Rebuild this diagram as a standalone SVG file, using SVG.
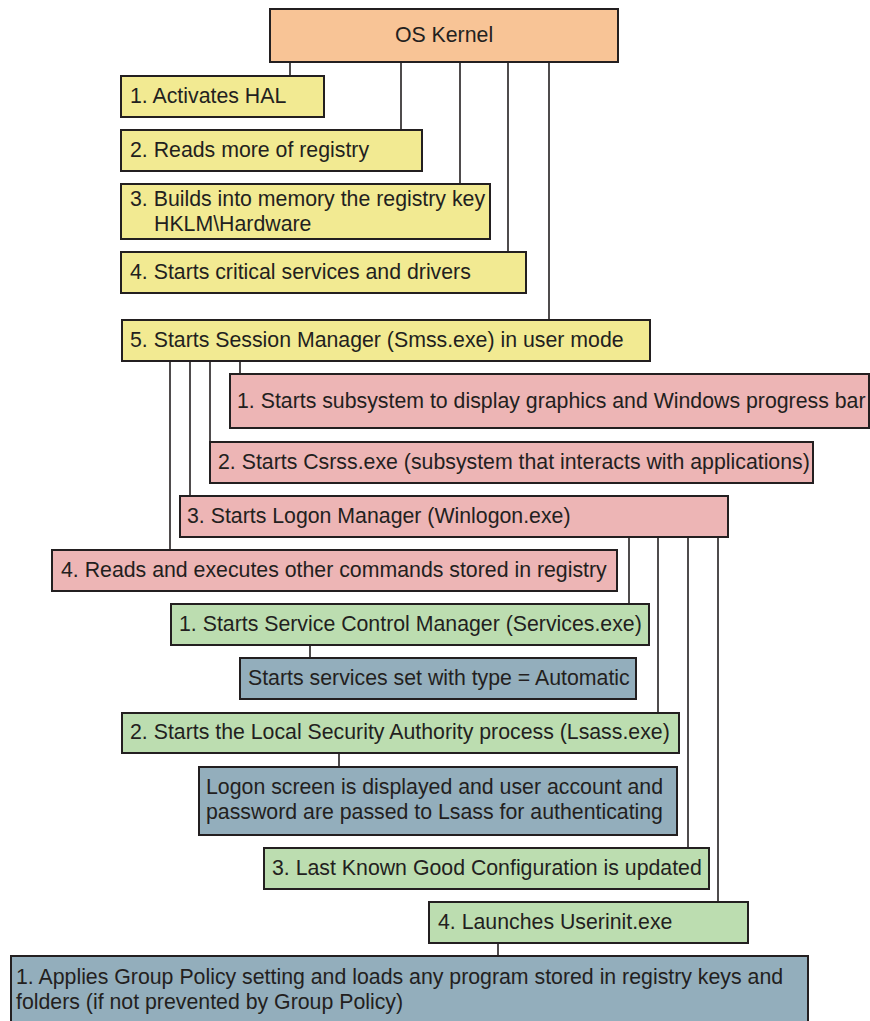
<svg xmlns="http://www.w3.org/2000/svg" width="870" height="1021" viewBox="0 0 870 1021">
<style>
rect{stroke:#231f20;stroke-width:2}
.k{fill:#f8c496}.y{fill:#f2ea92}.p{fill:#edb5b5}.g{fill:#bcddb0}.b{fill:#93aebc}
text{font-family:"Liberation Sans",Arial,sans-serif;font-size:21.3px;fill:#231f20}
#connectors line{stroke:#231f20;stroke-width:1.6}
</style>
<rect x="0" y="0" width="870" height="1021" fill="#ffffff" style="stroke:none"/>
<g id="connectors">
<line x1="290" y1="62" x2="290" y2="76"/>
<line x1="401" y1="62" x2="401" y2="130"/>
<line x1="460" y1="62" x2="460" y2="184"/>
<line x1="508" y1="62" x2="508" y2="252"/>
<line x1="549" y1="62" x2="549" y2="320"/>
<line x1="240" y1="361" x2="240" y2="374"/>
<line x1="210" y1="361" x2="210" y2="442"/>
<line x1="190" y1="361" x2="190" y2="496"/>
<line x1="170" y1="361" x2="170" y2="550"/>
<line x1="629" y1="537" x2="629" y2="604"/>
<line x1="658" y1="537" x2="658" y2="713"/>
<line x1="688" y1="537" x2="688" y2="848"/>
<line x1="718" y1="537" x2="718" y2="902"/>
<line x1="310" y1="645" x2="310" y2="658"/>
<line x1="339" y1="753" x2="339" y2="767"/>
<line x1="498" y1="943" x2="498" y2="956"/>
</g>
<g id="kernel"><rect class="k" x="270" y="9" width="348" height="53"/><text x="444" y="42" text-anchor="middle">OS Kernel</text></g>
<g id="k1"><rect class="y" x="121" y="76" width="203" height="41"/><text x="130" y="103">1. Activates HAL</text></g>
<g id="k2"><rect class="y" x="121" y="130" width="301" height="41"/><text x="130" y="157">2. Reads more of registry</text></g>
<g id="k3"><rect class="y" x="121" y="184" width="369" height="55"/><text x="130" y="206">3. Builds into memory the registry key</text><text x="154" y="231">HKLM\Hardware</text></g>
<g id="k4"><rect class="y" x="121" y="252" width="405" height="41"/><text x="130" y="279">4. Starts critical services and drivers</text></g>
<g id="k5"><rect class="y" x="122" y="320" width="528" height="41"/><text x="130" y="347">5. Starts Session Manager (Smss.exe) in user mode</text></g>
<g id="s1"><rect class="p" x="230" y="374" width="639" height="54"/><text x="237" y="408">1. Starts subsystem to display graphics and Windows progress bar</text></g>
<g id="s2"><rect class="p" x="210" y="442" width="603" height="41"/><text x="218" y="469">2. Starts Csrss.exe (subsystem that interacts with applications)</text></g>
<g id="s3"><rect class="p" x="180" y="496" width="548" height="41"/><text x="187" y="523">3. Starts Logon Manager (Winlogon.exe)</text></g>
<g id="s4"><rect class="p" x="52" y="550" width="565" height="41"/><text x="61" y="577">4. Reads and executes other commands stored in registry</text></g>
<g id="w1"><rect class="g" x="171" y="604" width="478" height="41"/><text x="179" y="631">1. Starts Service Control Manager (Services.exe)</text></g>
<g id="w1a"><rect class="b" x="240" y="658" width="396" height="41"/><text x="248" y="685">Starts services set with type = Automatic</text></g>
<g id="w2"><rect class="g" x="122" y="713" width="557" height="40"/><text x="130" y="739">2. Starts the Local Security Authority process (Lsass.exe)</text></g>
<g id="w2a"><rect class="b" x="199" y="767" width="478" height="68"/><text x="206" y="794">Logon screen is displayed and user account and</text><text x="206" y="819">password are passed to Lsass for authenticating</text></g>
<g id="w3"><rect class="g" x="264" y="848" width="445" height="41"/><text x="272" y="875">3. Last Known Good Configuration is updated</text></g>
<g id="w4"><rect class="g" x="429" y="902" width="319" height="41"/><text x="438" y="929">4. Launches Userinit.exe</text></g>
<g id="u1"><rect class="b" x="11" y="956" width="797" height="75"/><text x="16" y="984">1. Applies Group Policy setting and loads any program stored in registry keys and</text><text x="16" y="1009">folders (if not prevented by Group Policy)</text></g>
</svg>
